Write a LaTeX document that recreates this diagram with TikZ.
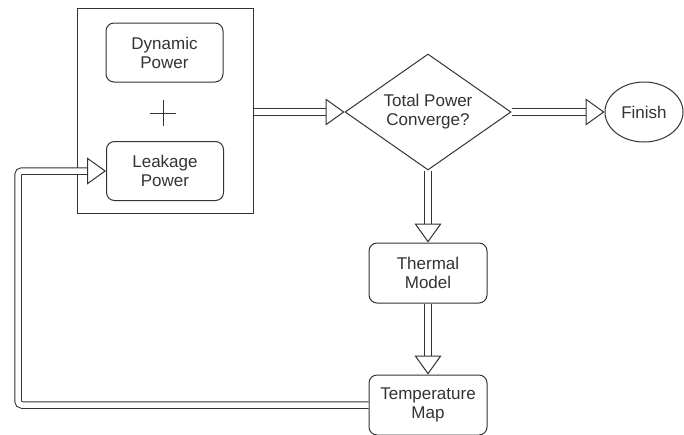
\documentclass[tikz,border=0pt]{standalone}
\usepackage{fontspec}
\setmainfont{Liberation Sans}
\usepackage{tikz}
\usetikzlibrary{positioning,shapes.geometric,arrows.meta}
\newcommand{\flowfont}{\fontsize{17pt}{19pt}\selectfont}
\tikzset{
    procbox/.style={
        rectangle, rounded corners=8pt, draw=black!80, fill=white,
        minimum width=117pt, minimum height=59pt, inner sep=2pt,
        align=center, font=\flowfont, text=black!80,
        line width=1pt
    },
    groupbox/.style={
        rectangle, draw=black!80, fill=white,
        minimum width=176pt, minimum height=205pt,
        line width=1pt
    },
    decbox/.style={
        diamond, aspect=1.43, draw=black!80, fill=white,
        minimum width=166pt, minimum height=116pt, inner sep=0pt,
        align=center, font=\flowfont, text=black!80,
        line width=1pt
    },
    endbox/.style={
        ellipse, draw=black!80, fill=white,
        minimum width=78pt, minimum height=60pt, inner sep=0pt,
        font=\flowfont, text=black!80,
        line width=1pt
    },
    flexarrow/.style={
        draw=black!80, line width=1pt, double=white, double distance=5.5pt,
        -{Triangle[length=19pt, width=27pt, fill=white, line width=1pt 0 0]}
    }
}

\begin{document}
\begin{tikzpicture}[x=1pt, y=-1pt]
    \useasboundingbox (0,0) rectangle (684,434);

    \node[groupbox] (power) at (165,110.5) {};
    \node[procbox] (dyn) at (164.5,52.5) {Dynamic\\Power};
    \node[procbox] (leak) at (165,171) {Leakage\\Power};
    \coordinate (plus) at (163,113);
    \draw[black!80, line width=1pt] (plus) +(-13,0) -- +(13,0);
    \draw[black!80, line width=1pt] (plus) +(0,-13) -- +(0,13);

    \node[decbox] (dec) at (428,112) {Total Power\\Converge?};
    \node[endbox] (finish) at (644,112) {Finish};
    \node[procbox, minimum width=118pt, minimum height=60pt] (thermal) at (428,273) {Thermal\\Model};
    \node[procbox, minimum width=118pt, minimum height=60pt] (tempmap) at (428,405) {Temperature\\Map};

    \coordinate (looptop) at (18,171);

    \draw[flexarrow] (power.east |- dec.west) -- (dec.west);
    \draw[flexarrow] (dec.east) -- (finish.west);
    \draw[flexarrow] (dec.south) -- (thermal.north);
    \draw[flexarrow] (thermal.south) -- (tempmap.north);
    \draw[flexarrow, rounded corners=4pt] (tempmap.west) -| (looptop) -- (leak.west);
\end{tikzpicture}
\end{document}
